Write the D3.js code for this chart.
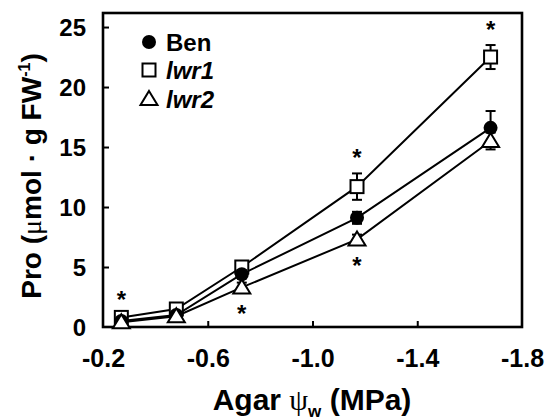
<!DOCTYPE html>
<html><head><meta charset="utf-8">
<script src="https://cdn.jsdelivr.net/npm/d3@7/dist/d3.min.js"></script>
<style>body{margin:0;background:#fff}svg{display:block}text{font-family:"Liberation Sans",Arial,sans-serif;font-weight:bold;fill:#000}</style>
</head><body><svg id="c" width="549" height="420"></svg>
<script>
const xValues = [-0.27, -0.48, -0.73, -1.17, -1.68];
const benValues = [0.5, 1.0, 4.4, 9.1, 16.6];
const benErr = [0.2, 0.2, 0.3, 0.5, 1.4];
const lwr1Values = [0.8, 1.5, 5.0, 11.7, 22.5];
const lwr1Err = [0.2, 0.2, 0.3, 1.1, 1.0];
const lwr2Values = [0.4, 0.9, 3.3, 7.3, 15.5];
const lwr2Err = [0.2, 0.2, 0.4, 0.4, 0.7];
const xTicks = [-0.2, -0.6, -1.0, -1.4, -1.8];
const xTickLabels = ["-0.2", "-0.6", "-1.0", "-1.4", "-1.8"];
const yTicks = [0, 5, 10, 15, 20, 25];
// significance asterisks
const starX = [-0.27, -1.17, -1.68, -0.73, -1.17];
const starSeries = ["lwr1", "lwr1", "lwr1", "lwr2", "lwr2"];
const starSide = ["above", "above", "above", "below", "below"];

const svg = d3.select("#c");
const L = 103, R = 522, T = 13, B = 327;
const x = d3.scaleLinear().domain([-0.2, -1.8]).range([L, R]);
const y = d3.scaleLinear().domain([0, 26.17]).range([B, T]);

// frame
svg.append("rect").attr("x", L).attr("y", T).attr("width", R - L).attr("height", B - T)
  .attr("fill", "none").attr("stroke", "#000").attr("stroke-width", 2.6);

// y axis (inward ticks)
const ya = svg.append("g").attr("transform", `translate(${L},0)`)
  .call(d3.axisRight(y).tickValues(yTicks).tickSize(6).tickFormat(d3.format("d")));
ya.select(".domain").remove();
ya.selectAll("line").attr("stroke", "#000").attr("stroke-width", 2).filter(d => d === 0).remove();
ya.selectAll("text").attr("x", -17).attr("text-anchor", "end").attr("dy", "0.36em")
  .style("font-size", "24px");

// x axis (inward ticks)
const xa = svg.append("g").attr("transform", `translate(0,${B})`)
  .call(d3.axisTop(x).tickValues(xTicks).tickSize(6).tickFormat((d, i) => xTickLabels[i]));
xa.select(".domain").remove();
xa.selectAll("line").attr("stroke", "#000").attr("stroke-width", 2)
  .filter(d => d === -0.2 || d === -1.8).remove();
xa.selectAll("text").attr("y", 40).attr("dy", 0).attr("text-anchor", "middle")
  .style("font-size", "25px");

const series = [
  {name: "lwr1", vals: lwr1Values, err: lwr1Err, shape: "square"},
  {name: "Ben", vals: benValues, err: benErr, shape: "circle"},
  {name: "lwr2", vals: lwr2Values, err: lwr2Err, shape: "triangle"}
];
const line = d3.line().x(d => x(d[0])).y(d => y(d[1]));

function drawMarker(g, shape, cx, cy) {
  if (shape === "circle") {
    g.append("circle").attr("cx", cx).attr("cy", cy).attr("r", 7).attr("fill", "#000");
  } else if (shape === "square") {
    g.append("rect").attr("x", cx - 6.5).attr("y", cy - 6.5).attr("width", 13).attr("height", 13)
      .attr("fill", "#fff").attr("stroke", "#000").attr("stroke-width", 2);
  } else {
    g.append("path").attr("d", `M${cx},${cy - 8}L${cx + 8.5},${cy + 6}L${cx - 8.5},${cy + 6}Z`)
      .attr("fill", "#fff").attr("stroke", "#000").attr("stroke-width", 2).attr("stroke-linejoin", "miter");
  }
}

series.forEach(s => {
  svg.append("path").datum(xValues.map((xv, i) => [xv, s.vals[i]]))
    .attr("d", line).attr("fill", "none").attr("stroke", "#000").attr("stroke-width", 2);
});
series.forEach(s => {
  const g = svg.append("g");
  xValues.forEach((xv, i) => {
    const cx = x(xv), hi = y(s.vals[i] + s.err[i]), lo = y(s.vals[i] - s.err[i]);
    g.append("line").attr("x1", cx).attr("x2", cx).attr("y1", hi).attr("y2", lo)
      .attr("stroke", "#000").attr("stroke-width", 2);
    [hi, lo].forEach(yy => g.append("line").attr("x1", cx - 5).attr("x2", cx + 5)
      .attr("y1", yy).attr("y2", yy).attr("stroke", "#000").attr("stroke-width", 2));
    drawMarker(g, s.shape, cx, y(s.vals[i]));
  });
});

// asterisks
starX.forEach((sx, i) => {
  const s = series.find(d => d.name === starSeries[i]);
  const idx = xValues.indexOf(sx);
  const v = s.vals[idx], e = s.err[idx];
  const yy = starSide[i] === "above" ? y(v + e) - 7 : y(v - e) + 30;
  svg.append("text").attr("x", x(sx)).attr("y", yy).attr("text-anchor", "middle")
    .style("font-size", "24px").text("*");
});

// legend
const leg = svg.append("g");
const legItems = [["Ben", "circle", 42, "normal"], ["lwr1", "square", 70, "italic"], ["lwr2", "triangle", 99, "italic"]];
legItems.forEach(([t, sh, ly, st]) => {
  drawMarker(leg, sh, 149, ly);
  leg.append("text").attr("x", 166).attr("y", ly).attr("dy", "0.36em")
    .style("font-size", "24px").style("font-style", st).text(t);
});

// axis titles
const yl = svg.append("text").attr("transform", "translate(41,176) rotate(-90)").attr("text-anchor", "middle")
  .style("font-size", "28px");
yl.append("tspan").text("Pro (");
yl.append("tspan").style("font-weight", "normal").style("font-family", "'Liberation Serif',serif").text("μ");
yl.append("tspan").text("mol · g FW");
yl.append("tspan").attr("dy", -11).style("font-size", "16px").text("-1");
yl.append("tspan").attr("dy", 11).text(")");

const xl = svg.append("text").attr("x", 312).attr("y", 410).attr("text-anchor", "middle")
  .style("font-size", "30px");
xl.append("tspan").text("Agar ");
xl.append("tspan").style("font-weight", "normal").style("font-family", "'Liberation Serif',serif").text("ψ");
xl.append("tspan").attr("dy", 7).style("font-size", "17px").text("w");
xl.append("tspan").attr("dy", -7).text(" (MPa)");
</script></body></html>
